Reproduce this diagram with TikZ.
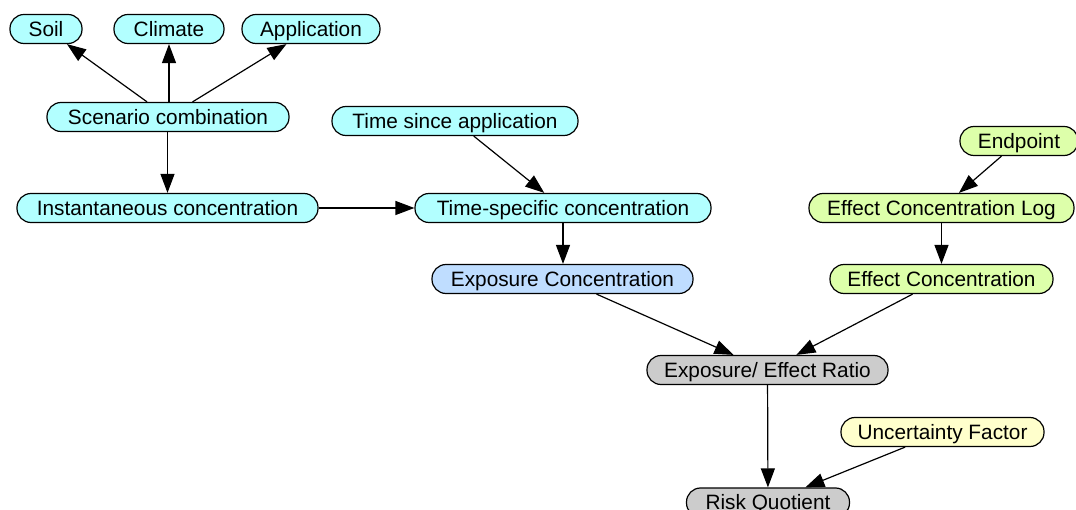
\documentclass[tikz,border=0pt]{standalone}
\usepackage{fontspec}
\setmainfont{Liberation Sans}
\usetikzlibrary{arrows.meta}
\definecolor{cyanfill}{HTML}{B2FFFF}
\definecolor{bluefill}{HTML}{BFDDFF}
\definecolor{greenfill}{HTML}{DDFFAA}
\definecolor{yellowfill}{HTML}{FFFFCC}
\definecolor{grayfill}{HTML}{CCCCCC}
\tikzset{
  nd/.style={draw=black, line width=1.2pt, rounded corners=14pt, minimum height=29pt,
    inner sep=0pt, text height=15pt, text depth=0.2pt,
    font=\fontsize{20.8}{24}\selectfont, text=black},
  cy/.style={nd, fill=cyanfill},
  bl/.style={nd, fill=bluefill},
  gr/.style={nd, fill=greenfill},
  ye/.style={nd, fill=yellowfill},
  gy/.style={nd, fill=grayfill},
  edge/.style={draw=black, line width=1.2pt, -{Triangle[length=19pt,width=14pt]}}
}
\begin{document}
\begin{tikzpicture}[x=1pt, y=-1pt]
\useasboundingbox (0,0) rectangle (1076,510);
\node[cy, minimum width=72pt]  (soil)    at (46,29)    {Soil};
\node[cy, minimum width=110pt] (climate) at (169,29)   {Climate};
\node[cy, minimum width=138pt] (appl)    at (311,29)   {Application};
\node[cy, minimum width=242pt] (scen)    at (168,117)  {Scenario combination};
\node[cy, minimum width=246pt] (tsa)     at (455,121)  {Time since application};
\node[cy, minimum width=301pt] (inst)    at (167.5,208) {Instantaneous concentration};
\node[cy, minimum width=296pt] (tsc)     at (563,208)  {Time-specific concentration};
\node[bl, minimum width=261pt] (expc)    at (562.5,279) {Exposure Concentration};
\node[gr, minimum width=118pt] (endp)    at (1019,141) {Endpoint};
\node[gr, minimum width=265pt] (eclog)   at (941.5,208) {Effect Concentration Log};
\node[gr, minimum width=223pt] (ec)      at (941.5,279) {Effect Concentration};
\node[gy, minimum width=241pt] (ratio)   at (767.5,370) {Exposure/ Effect Ratio};
\node[ye, minimum width=203pt] (unc)     at (942.5,432) {Uncertainty Factor};
\node[gy, minimum width=163pt] (rq)      at (768,502.5) {Risk Quotient};

\draw[edge] (scen) -- (soil);
\draw[edge] (scen.north -| climate.south) -- (climate.south);
\draw[edge] (scen) -- (appl);
\draw[edge] (scen.south -| inst.north) -- (inst.north);
\draw[edge] (inst) -- (tsc);
\draw[edge] (tsa) -- (tsc);
\draw[edge] (tsc.south) -- (tsc.south |- expc.north);
\draw[edge] (endp) -- (eclog);
\draw[edge] (eclog) -- (ec);
\draw[edge] (expc) -- (ratio);
\draw[edge] (ec) -- (ratio);
\draw[edge] (ratio) -- (rq);
\draw[edge] (unc) -- (rq);
\end{tikzpicture}
\end{document}
